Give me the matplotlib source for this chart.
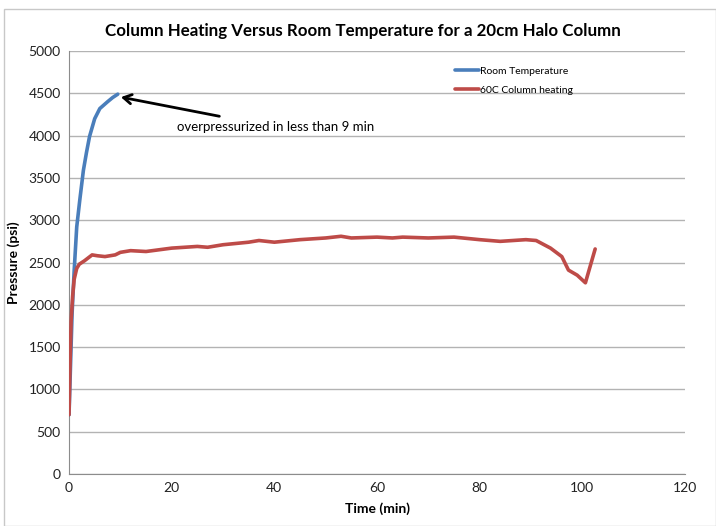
import matplotlib
matplotlib.use("Agg")
import matplotlib.pyplot as plt
from matplotlib.patches import Rectangle

plt.rcParams['font.family'] = ['Lato', 'DejaVu Sans']

room_t = [0, 0.3, 0.6, 1.0, 1.5, 2.1, 2.8, 3.4, 4.0, 5.0, 6.0, 7.5, 8.5, 9.5]
room_p = [700, 1300, 1900, 2400, 2920, 3240, 3590, 3800, 3990, 4200, 4320, 4400, 4450, 4490]

heat_t = [0, 0.2, 0.4, 0.7, 1.0, 1.5, 2.0, 3.0, 4.5, 5.5, 7, 9, 10, 12, 15, 20, 25, 27, 30,
          35, 37, 40, 45, 50, 53, 55, 60, 63, 65, 70, 75, 80, 84, 89, 91, 93.8, 96, 97.3,
          99, 100.6, 101.5, 102.5]
heat_p = [700, 1300, 1800, 2100, 2300, 2430, 2480, 2520, 2590, 2580, 2570, 2590, 2620, 2640,
          2630, 2670, 2690, 2680, 2710, 2740, 2760, 2740, 2770, 2790, 2810, 2790, 2800, 2790,
          2800, 2790, 2800, 2770, 2750, 2770, 2760, 2670, 2570, 2410, 2350, 2260, 2450, 2660]

fig = plt.figure(figsize=(7.16, 5.26), dpi=100)
fig.patches.append(Rectangle((0.006, 0.0), 0.994, 0.982, transform=fig.transFigure,
                             fill=False, edgecolor='#c8c8c8', linewidth=1))
ax = fig.add_axes([0.0964, 0.0989, 0.8603, 0.8041])

ax.plot(room_t, room_p, color='#4a7ebb', linewidth=2.6, label='Room Temperature',
        solid_capstyle='round', zorder=3)
ax.plot(heat_t, heat_p, color='#be4b48', linewidth=2.6, label='60C Column heating',
        solid_capstyle='round', zorder=3)

ax.set_xlim(0, 120)
ax.set_ylim(0, 5000)
ax.set_xticks(range(0, 121, 20))
ax.set_yticks(range(0, 5001, 500))
ax.grid(axis='y', color='#b3b3b3', linewidth=1)
ax.set_axisbelow(True)
for s in ['top', 'right']:
    ax.spines[s].set_visible(False)
for s in ['left', 'bottom']:
    ax.spines[s].set_color('#8c8c8c')
ax.tick_params(axis='both', length=0, labelsize=10, colors='#222222', pad=6)

ax.set_xlabel('Time (min)', fontsize=10, fontweight='bold', labelpad=6)
ax.set_ylabel('Pressure (psi)', fontsize=10, fontweight='bold', labelpad=6)
fig.text(0.507, 0.942, 'Column Heating Versus Room Temperature for a 20cm Halo Column',
         ha='center', va='center', fontsize=12.2, fontweight='bold')

ax.annotate('overpressurized in less than 9 min', xy=(10.1, 4455), xytext=(21, 4100),
            fontsize=9.5, va='center', ha='left',
            arrowprops=dict(arrowstyle='->,head_length=0.6,head_width=0.35', color='black',
                            lw=2, shrinkA=8, shrinkB=0))

ax.legend(loc='upper left', bbox_to_anchor=(0.612, 0.985), frameon=False, fontsize=7.5,
          handlelength=2.3, handletextpad=0.1, labelspacing=0.9)

fig.savefig('out.png', dpi=100)
